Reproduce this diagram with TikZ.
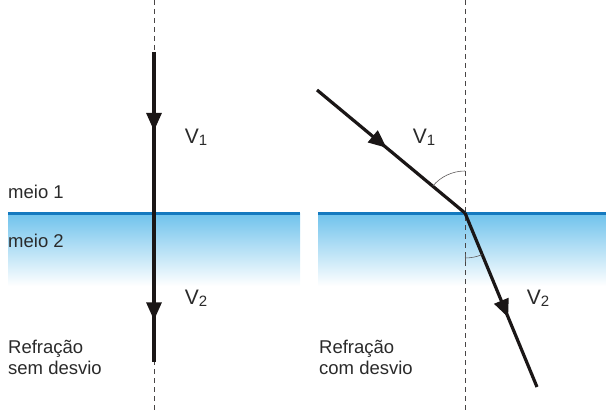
\documentclass[tikz,border=0pt]{standalone}
\usepackage{fontspec}
\setmainfont{Liberation Sans}
\usetikzlibrary{arrows.meta,decorations.markings}
\definecolor{surf}{HTML}{1479BF}
\definecolor{water}{HTML}{6EC2EC}
\definecolor{ray}{HTML}{1A1616}
\definecolor{txt}{HTML}{2A2A2A}
\tikzset{
  normalline/.style={draw=ray!80, line width=0.9pt, dash pattern=on 5pt off 4pt},
  surfline/.style={draw=surf, line width=3pt},
  waterbox/.style={top color=water, bottom color=white, draw=none},
  raypath/.style={draw=ray, line width=3.2pt},
  midarrow/.style={postaction={decorate, decoration={markings,
     mark=at position #1 with {\arrow{Triangle[length=18pt,width=15pt]}}}}},
  lbl/.style={font=\fontsize{18.5}{21}\selectfont, text=txt, anchor=west, align=left, inner sep=0pt},
  vlbl/.style={inner sep=0pt, text=txt},
  anglearc/.style={draw=ray!70, line width=0.6pt}
}
\newcommand{\vsym}[1]{{\fontsize{21}{21}\selectfont V}\raisebox{-2pt}{\fontsize{15}{15}\selectfont #1}}
\begin{document}
\begin{tikzpicture}[x=1pt,y=-1pt]
\useasboundingbox (0,0) rectangle (606,412);
% water
\shade[waterbox] (8,213) rectangle (300,286);
\shade[waterbox] (318,213) rectangle (606,286);
\draw[surfline] (8,213) -- (300,213);
\draw[surfline] (318,213) -- (606,213);
% normals
\coordinate (N1t) at (154,0); \coordinate (N1b) at (154,412);
\coordinate (N2t) at (465,0); \coordinate (N2b) at (465,412);
\draw[normalline] (N1t) -- (N1b);
\draw[normalline] (N2t) -- (N2b);
% left ray
\coordinate (A1) at (154,52);
\coordinate (O1) at (154,213);
\coordinate (B1) at (154,362);
\draw[raypath, midarrow=0.49] (A1) -- (O1);
\draw[raypath, midarrow=0.72] (O1) -- (B1);
% right ray
\coordinate (A2) at (317,90);
\coordinate (O2) at (465,213);
\coordinate (B2) at (537,387);
\draw[raypath, midarrow=0.47] (A2) -- (O2);
\draw[raypath, midarrow=0.6] (O2) -- (B2);
% angle arcs
\draw[anglearc] (O2) ++(219.7:42) arc[start angle=219.7, end angle=270, radius=42];
\draw[anglearc] (O2) ++(67.5:45) arc[start angle=67.5, end angle=90, radius=45];
\draw[anglearc] (O2) ++(90:41) -- ++(90:8);
% labels
\node[vlbl] (v1l) at (196,137) {\vsym{1}};
\node[vlbl] (v2l) at (196,298) {\vsym{2}};
\node[vlbl] (v1r) at (424,137) {\vsym{1}};
\node[vlbl] (v2r) at (538,298) {\vsym{2}};
\node[lbl] (m1) at (8,192) {meio 1};
\node[lbl] (m2) at (8,241) {meio 2};
\node[lbl] (r1) at (8,357) {Refração\\sem desvio};
\node[lbl] (r2) at (319,357) {Refração\\com desvio};
\end{tikzpicture}
\end{document}
